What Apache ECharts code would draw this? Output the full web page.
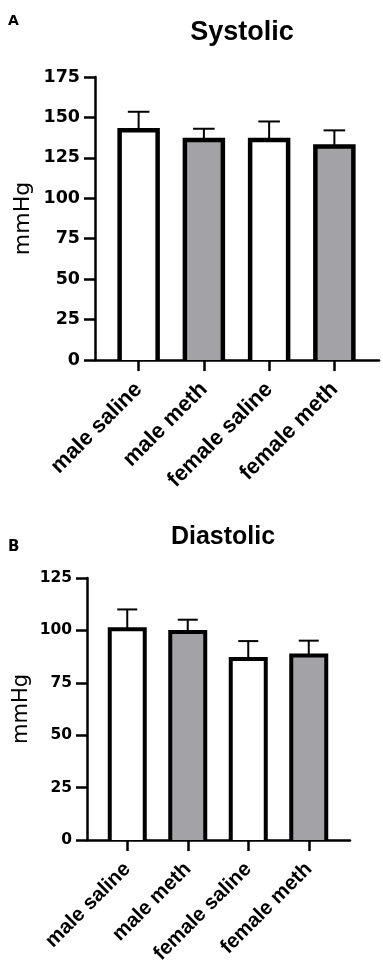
<!DOCTYPE html>
<html>
<head>
<meta charset="utf-8">
<script src="https://cdn.jsdelivr.net/npm/echarts@6/dist/echarts.min.js"></script>
<style>
  html, body { margin: 0; padding: 0; background: #fff; }
  #chart { width: 383px; height: 960px; }
</style>
</head>
<body>
<div id="chart"></div>
<script>
// data
const categories = ['male saline', 'male meth', 'female saline', 'female meth'];
const sysMean = [142, 136, 136, 132];
const sysSD = [11.5, 7, 11.5, 10];
const diaMean = [100.6, 99.2, 86.3, 88];
const diaSD = [9.4, 5.9, 8.6, 7.1];
const fills = ['#ffffff', '#a3a3a7', '#ffffff', '#a3a3a7'];
const sysMax = 175;
const diaMax = 125;
const yStep = 25;

const chart = echarts.init(document.getElementById('chart'));
const sansBold = "'Liberation Sans', Arial, sans-serif";
const wide = "'DejaVu Sans', sans-serif";

function barData(means) {
  return means.map(function (v, i) {
    return { value: v, itemStyle: { color: fills[i] } };
  });
}

// open-bottom bar outline + upper error bar, so the bar base sits on the axis line
function outlineSeries(means, sds, xi, yi, halfBar, border, capHalf) {
  return {
    type: 'custom',
    xAxisIndex: xi,
    yAxisIndex: yi,
    z: 5,
    data: means.map(function (m, i) { return [i, m, m + sds[i]]; }),
    renderItem: function (params, api) {
      const base = api.coord([api.value(0), 0]);
      const lo = api.coord([api.value(0), api.value(1)]);
      const hi = api.coord([api.value(0), api.value(2)]);
      const st = { stroke: '#000', lineWidth: 2 };
      return {
        type: 'group',
        children: [
          { type: 'line', shape: { x1: lo[0], y1: lo[1], x2: hi[0], y2: hi[1] }, style: st },
          { type: 'line', shape: { x1: hi[0] - capHalf, y1: hi[1], x2: hi[0] + capHalf, y2: hi[1] }, style: st },
          {
            type: 'polyline',
            shape: { points: [[lo[0] - halfBar, base[1]], [lo[0] - halfBar, lo[1]], [lo[0] + halfBar, lo[1]], [lo[0] + halfBar, base[1]]] },
            style: { stroke: '#000', lineWidth: border, fill: null, lineJoin: 'miter' }
          }
        ]
      };
    }
  };
}

// y axis with line + ticks + labels (wide grid)
function mainY(gi, max, fs, gap, nameFs, labelMargin) {
  return {
    gridIndex: gi, type: 'value', min: 0, max: max, interval: yStep,
    name: 'mmHg', nameLocation: 'middle', nameGap: gap, nameRotate: 90, nameMoveOverlap: false,
    nameTextStyle: { fontFamily: wide, fontSize: nameFs, color: '#000' },
    axisLine: { show: true, lineStyle: { color: '#000', width: 2.5 } },
    axisTick: { show: true, inside: false, length: 11, lineStyle: { color: '#000', width: 2.5 } },
    axisLabel: { fontFamily: wide, fontWeight: 'bold', fontSize: fs, color: '#000', margin: labelMargin },
    splitLine: { show: false }
  };
}
function hiddenY(gi, max) {
  return {
    gridIndex: gi, type: 'value', min: 0, max: max, interval: yStep,
    axisLine: { show: false }, axisTick: { show: false }, axisLabel: { show: false }, splitLine: { show: false }
  };
}
function lineX(gi) {
  return {
    gridIndex: gi, type: 'category', data: categories,
    axisLine: { show: true, lineStyle: { color: '#000', width: 2.5 } },
    axisTick: { show: false }, axisLabel: { show: false }, splitLine: { show: false }
  };
}
function barX(gi, fs, margin) {
  return {
    gridIndex: gi, type: 'category', data: categories,
    axisLine: { show: false },
    axisTick: { show: true, alignWithLabel: true, length: 11, lineStyle: { color: '#000', width: 2.5 } },
    axisLabel: { rotate: 45, interval: 0, fontFamily: sansBold, fontWeight: 'bold', fontSize: fs, color: '#000', margin: margin }
  };
}

const option = {
  backgroundColor: '#fff',
  animation: false,
  title: [
    { text: 'A', left: 3, top: 9, textStyle: { fontFamily: wide, fontWeight: 'bold', fontSize: 14, color: '#000' } },
    { text: 'Systolic', left: 237, top: 14, textAlign: 'center', textStyle: { fontFamily: sansBold, fontWeight: 'bold', fontSize: 27, color: '#000' } },
    { text: 'B', left: 3, top: 535, textStyle: { fontFamily: wide, fontWeight: 'bold', fontSize: 15, color: '#000' } },
    { text: 'Diastolic', left: 218, top: 520, textAlign: 'center', textStyle: { fontFamily: sansBold, fontWeight: 'bold', fontSize: 25, color: '#000' } }
  ],
  grid: [
    { left: 95, right: 4, top: 77, bottom: 600, outerBoundsMode: 'none' },
    { left: 106, right: 16, top: 77, bottom: 600, outerBoundsMode: 'none' },
    { left: 87, right: 33, top: 578, bottom: 120, outerBoundsMode: 'none' },
    { left: 97, right: 44, top: 578, bottom: 120, outerBoundsMode: 'none' }
  ],
  xAxis: [lineX(0), barX(1, 22, 26), lineX(2), barX(3, 20.5, 26)],
  yAxis: [mainY(0, sysMax, 17.5, 61, 22, 15), hiddenY(1, sysMax), mainY(2, diaMax, 15.5, 55, 21, 15), hiddenY(3, diaMax)],
  series: [
    {
      type: 'bar', xAxisIndex: 1, yAxisIndex: 1, barWidth: 38,
      itemStyle: { borderWidth: 0 },
      data: barData(sysMean)
    },
    outlineSeries(sysMean, sysSD, 1, 1, 19, 4.5, 10.8),
    {
      type: 'bar', xAxisIndex: 3, yAxisIndex: 3, barWidth: 35,
      itemStyle: { borderWidth: 0 },
      data: barData(diaMean)
    },
    outlineSeries(diaMean, diaSD, 3, 3, 17.5, 4, 10)
  ]
};
chart.setOption(option);
</script>
</body>
</html>
